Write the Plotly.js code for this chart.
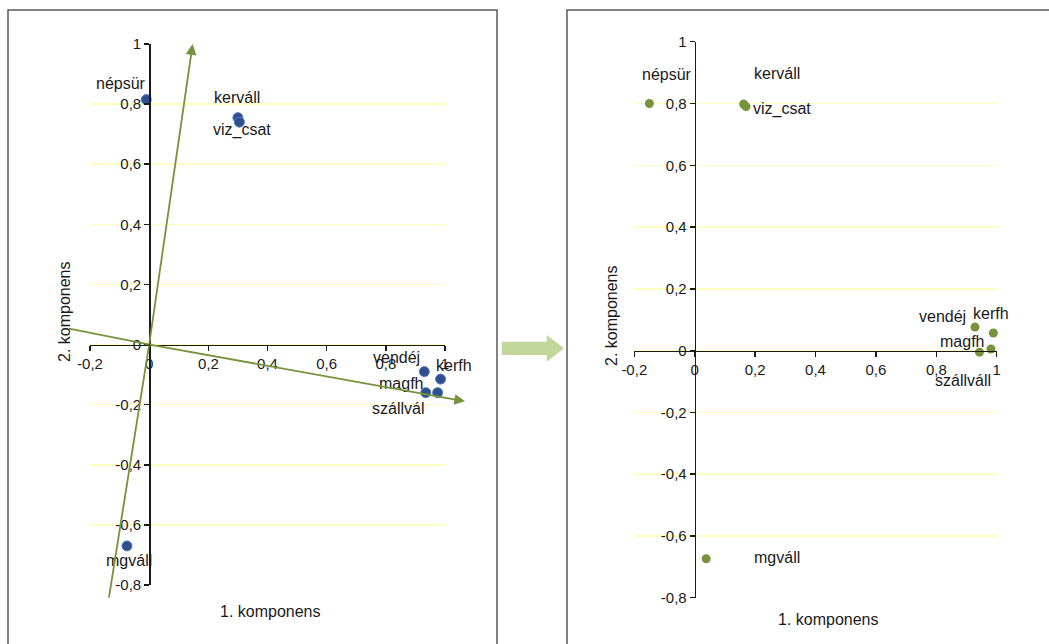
<!DOCTYPE html>
<html>
<head>
<meta charset="utf-8">
<script src="https://cdn.plot.ly/plotly-3.0.1.min.js"></script>
<style>html,body{margin:0;padding:0;background:#fff}#chart{width:1049px;height:644px}</style>
</head>
<body>
<div id="chart"></div>
<script>
// ---- data ----
const labelsLeft = ['népsür','kerváll','viz_csat','vendéj','kerfh','magfh','szállvál','mgváll'];
const xLeft = [-0.01, 0.300, 0.305, 0.930, 0.985, 0.935, 0.975, -0.075];
const yLeft = [0.815, 0.755, 0.740, -0.090, -0.115, -0.160, -0.160, -0.670];

const labelsRight = ['népsür','kerváll','viz_csat','vendéj','kerfh','magfh','szállváll','mgváll'];
const xRight = [-0.150, 0.162, 0.170, 0.928, 0.989, 0.943, 0.981, 0.038];
const yRight = [0.800, 0.798, 0.790, 0.076, 0.057, -0.005, 0.005, -0.674];

// rotated component axes drawn in left chart (positive and negative ends)
const rotAxisX = [1.068, -0.271];
const rotAxisY = [-0.189, 0.053];
const rotAxis2X = [0.147, -0.136];
const rotAxis2Y = [1.000, -0.842];

const xTickVals = [-0.2, 0, 0.2, 0.4, 0.6, 0.8, 1];
const xTickText = ['-0,2', '0', '0,2', '0,4', '0,6', '0,8', '1'];
const yTickVals = [-0.8, -0.6, -0.4, -0.2, 0, 0.2, 0.4, 0.6, 0.8, 1];
const yTickText = ['-0,8', '-0,6', '-0,4', '-0,2', '0', '0,2', '0,4', '0,6', '0,8', '1'];

const xTitle = '1. komponens';
const yTitle = '2. komponens';

// ---- layout helpers ----
const W = 1049, H = 644;
const px = v => v / W;
const py = v => 1 - v / H;

// label offsets (pixels, right / down)
const offLeft = [[-25,-16],[-1,-20],[3,8],[-28,-14],[13,-14],[-25,-9],[-40,16],[2,15]];
const offRight = [[18,-29],[33,-31],[36,2],[-32,-11],[-2,-19],[-17,-11],[-28,31],[71,-1]];

const FONT = 'Liberation Sans, Arial, sans-serif';
const TXT = '#1a1a1a';
const xr = [-0.2, 1], yr = [-0.8, 1];

const dom = {
  x1: [px(90), px(445)], y1: [py(585), py(44)],
  x2: [px(634.3), px(996.7)], y2: [py(597.7), py(41.7)]
};
function zeroPos(d, r) { return d[0] + (0 - r[0]) / (r[1] - r[0]) * (d[1] - d[0]); }

function axisBase(range, domain, pos, tv, tt) {
  return {
    range: range, domain: domain, tickmode: 'array', tickvals: tv, ticktext: tt,
    anchor: 'free', position: pos,
    showline: true, linecolor: TXT, linewidth: 1.5,
    ticks: 'outside', ticklen: 5, tickwidth: 1.5, tickcolor: TXT,
    zeroline: false, fixedrange: true,
    tickfont: {family: FONT, size: 15, color: TXT}
  };
}

const xaxis = Object.assign(axisBase(xr, dom.x1, zeroPos(dom.y1, yr), xTickVals, xTickText), {showgrid: false});
const yaxis = Object.assign(axisBase(yr, dom.y1, zeroPos(dom.x1, xr), yTickVals, yTickText), {showgrid: true, gridcolor: '#FFFFC2', gridwidth: 1.5});
const xaxis2 = Object.assign(axisBase(xr, dom.x2, zeroPos(dom.y2, yr), xTickVals, xTickText), {showgrid: false});
const yaxis2 = Object.assign(axisBase(yr, dom.y2, zeroPos(dom.x2, xr), yTickVals, yTickText), {showgrid: true, gridcolor: '#FFFFC2', gridwidth: 1.5});

const traces = [
  {x: xLeft, y: yLeft, xaxis: 'x', yaxis: 'y', type: 'scatter', mode: 'markers', cliponaxis: false,
   marker: {size: 10, color: '#2F4F8F', line: {color: '#5A7ABF', width: 1}}, hoverinfo: 'skip'},
  {x: xRight, y: yRight, xaxis: 'x2', yaxis: 'y2', type: 'scatter', mode: 'markers', cliponaxis: false,
   marker: {size: 9, color: '#77933C'}, hoverinfo: 'skip'}
];

const labelFont = {family: FONT, size: 16, color: TXT};
const annotations = [];
labelsLeft.forEach((t, i) => annotations.push({
  x: xLeft[i], y: yLeft[i], xref: 'x', yref: 'y', text: t, showarrow: false,
  xanchor: 'center', yanchor: 'middle', xshift: offLeft[i][0], yshift: -offLeft[i][1],
  font: labelFont
}));
labelsRight.forEach((t, i) => annotations.push({
  x: xRight[i], y: yRight[i], xref: 'x2', yref: 'y2', text: t, showarrow: false,
  xanchor: 'center', yanchor: 'middle', xshift: offRight[i][0], yshift: -offRight[i][1],
  font: labelFont
}));

// rotated axes: from origin to each end
function rotArrow(x, y, head) {
  return {x: x, y: y, xref: 'x', yref: 'y', ax: 0, ay: 0, axref: 'x', ayref: 'y',
    showarrow: true, arrowhead: head ? 2 : 0, arrowsize: 1.2, arrowwidth: 1.8,
    arrowcolor: '#77933C', standoff: 0, startstandoff: 0, borderpad: 0,
    font: {size: 1}};
}
annotations.push(rotArrow(rotAxisX[0], rotAxisY[0], true));
annotations.push(rotArrow(rotAxisX[1], rotAxisY[1], false));
annotations.push(rotArrow(rotAxis2X[0], rotAxis2Y[0], true));
annotations.push(rotArrow(rotAxis2X[1], rotAxis2Y[1], false));

// axis titles
annotations.push({x: px(270), y: py(611), xref: 'paper', yref: 'paper', text: xTitle, showarrow: false, xanchor: 'center', yanchor: 'middle', font: labelFont});
annotations.push({x: px(828), y: py(619), xref: 'paper', yref: 'paper', text: xTitle, showarrow: false, xanchor: 'center', yanchor: 'middle', font: labelFont});
annotations.push({x: px(64), y: py(312), xref: 'paper', yref: 'paper', text: yTitle, textangle: -90, showarrow: false, xanchor: 'center', yanchor: 'middle', font: labelFont});
annotations.push({x: px(612), y: py(316), xref: 'paper', yref: 'paper', text: yTitle, textangle: -90, showarrow: false, xanchor: 'center', yanchor: 'middle', font: labelFont});

const shapes = [
  {type: 'rect', xref: 'paper', yref: 'paper', x0: px(8), x1: px(497), y0: py(10), y1: py(720),
   line: {color: '#5a5a5a', width: 1.5}, fillcolor: 'rgba(0,0,0,0)', layer: 'below'},
  {type: 'rect', xref: 'paper', yref: 'paper', x0: px(567), x1: px(1120), y0: py(10), y1: py(720),
   line: {color: '#5a5a5a', width: 1.5}, fillcolor: 'rgba(0,0,0,0)', layer: 'below'},
  {type: 'path', xref: 'paper', yref: 'paper',
   path: 'M' + px(501.7) + ',' + py(341.7) + ' L' + px(546.7) + ',' + py(341.7) + ' L' + px(546.7) + ',' + py(335) +
         ' L' + px(564) + ',' + py(348.3) + ' L' + px(546.7) + ',' + py(361.7) + ' L' + px(546.7) + ',' + py(355) +
         ' L' + px(501.7) + ',' + py(355) + ' Z',
   fillcolor: '#C3D69B', line: {width: 0}}
];

const layout = {
  width: W, height: H, margin: {l: 0, r: 0, t: 0, b: 0},
  paper_bgcolor: '#fff', plot_bgcolor: 'rgba(0,0,0,0)',
  showlegend: false, separators: ', ',
  xaxis: xaxis, yaxis: yaxis, xaxis2: xaxis2, yaxis2: yaxis2,
  annotations: annotations, shapes: shapes,
  font: {family: FONT}
};

Plotly.newPlot('chart', traces, layout, {displayModeBar: false, staticPlot: true});
</script>
</body>
</html>
